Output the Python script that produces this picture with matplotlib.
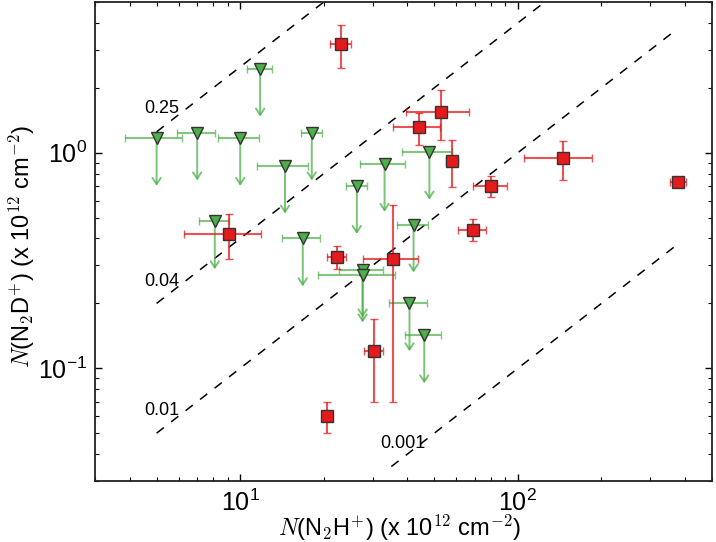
import numpy as np
import matplotlib
matplotlib.use('Agg')
import matplotlib.pyplot as plt

plt.rcParams['font.family'] = ['Liberation Sans', 'DejaVu Sans']
plt.rcParams['mathtext.fontset'] = 'cm'

# detections (red squares): N(N2H+), N(N2D+) in 1e12 cm^-2
det_x = [23.0, 53.0, 44.0, 58.0, 80.0, 145.0, 378.0, 69.0, 9.1, 22.3, 35.6, 30.2, 20.5]
det_xerr = [2.0, 13.5, 8.5, 3.0, 11.0, 40.0, 25.0, 8.0, 2.8, 1.7, 8.0, 2.4, 0.0]
det_y = [3.2, 1.55, 1.31, 0.92, 0.70, 0.94, 0.73, 0.44, 0.42, 0.33, 0.32, 0.12, 0.060]
det_yerr = [0.72, 0.40, 0.22, 0.23, 0.08, 0.19, 0.04, 0.05, 0.10, 0.04, 0.25, 0.05, 0.010]

# upper limits (green triangles)
lim_x = [11.8, 5.0, 7.0, 10.0, 14.5, 18.1, 8.1, 16.8, 27.6, 27.6, 42.1, 40.7, 46.0, 26.3, 33.1, 48.0]
lim_xerr = [1.25, 1.15, 1.1, 1.7, 3.0, 1.6, 1.0, 2.6, 5.0, 8.6, 5.5, 6.5, 6.8, 2.2, 6.0, 9.7]
lim_y = [2.45, 1.17, 1.24, 1.17, 0.87, 1.24, 0.48, 0.40, 0.287, 0.272, 0.464, 0.200, 0.142, 0.70, 0.886, 1.01]

# constant N(N2D+)/N(N2H+) ratios
ratios = [0.25, 0.04, 0.01, 0.001]
ratio_labels = ['0.25', '0.04', '0.01', '0.001']

red = '#e41a1c'
green = '#4daf4a'
arrow_frac = 0.6

fig = plt.figure(figsize=(7.16, 5.42), dpi=100)
ax = fig.add_axes([0.1327, 0.1125, 0.8617, 0.8838])
ax.set_xscale('log')
ax.set_yscale('log')

for r in ratios:
    xl = np.array([35.0 if r < 0.005 else 5.0, 370.0])
    ax.plot(xl, r * xl, color='black', lw=1.1, dashes=(6, 6), zorder=1)

label_pos = [(4.5, 1.52), (4.5, 0.242), (4.5, 0.0606), (32.0, 0.0426)]
for lab, (tx, ty) in zip(ratio_labels, label_pos):
    ax.text(tx, ty, lab, fontsize=13, ha='left', va='baseline', zorder=1)

# upper limits
ax.errorbar(lim_x, lim_y, xerr=lim_xerr, fmt='v', ms=9, mfc=green, mec='#333333',
            mew=1.0, ecolor=(0.30, 0.69, 0.29, 0.7), elinewidth=1.5, capsize=3,
            capthick=1.3, zorder=3)
for x, y in zip(lim_x, lim_y):
    ax.annotate('', xy=(x, y * arrow_frac), xytext=(x, y),
                arrowprops=dict(arrowstyle='->,head_length=0.45,head_width=0.3',
                                color=(0.30, 0.69, 0.29, 0.75), lw=1.4,
                                shrinkA=0, shrinkB=0), zorder=2)

# detections
ax.errorbar(det_x, det_y, xerr=det_xerr, yerr=det_yerr, fmt='s', ms=9, mfc=red,
            mec='#333333', mew=1.0, ecolor=(0.89, 0.10, 0.11, 0.75),
            elinewidth=1.5, capsize=3, capthick=1.3, zorder=4)

ax.set_xlim(3.0, 500)
ax.set_ylim(0.03, 5.0)

ax.tick_params(which='both', direction='in', top=True, right=True, labelsize=18)
ax.tick_params(which='major', length=5, width=1.0, pad=6)
ax.tick_params(which='minor', length=3, width=0.8)
for sp in ax.spines.values():
    sp.set_linewidth(1.3)
    sp.set_color('#222222')

ax.set_xlabel(r'$N$(N$_\mathsf{2}$H$^\mathsf{+}$) (x 10$^\mathsf{12}$ cm$^{-2}$)',
              fontsize=17, va='baseline')
ax.set_ylabel(r'$N$(N$_\mathsf{2}$D$^\mathsf{+}$) (x 10$^\mathsf{12}$ cm$^{-2}$)',
              fontsize=17, va='baseline')
ax.xaxis.set_label_coords(0.494, -0.115)
ax.yaxis.set_label_coords(-0.106, 0.491)

fig.savefig('out.png', dpi=100)
